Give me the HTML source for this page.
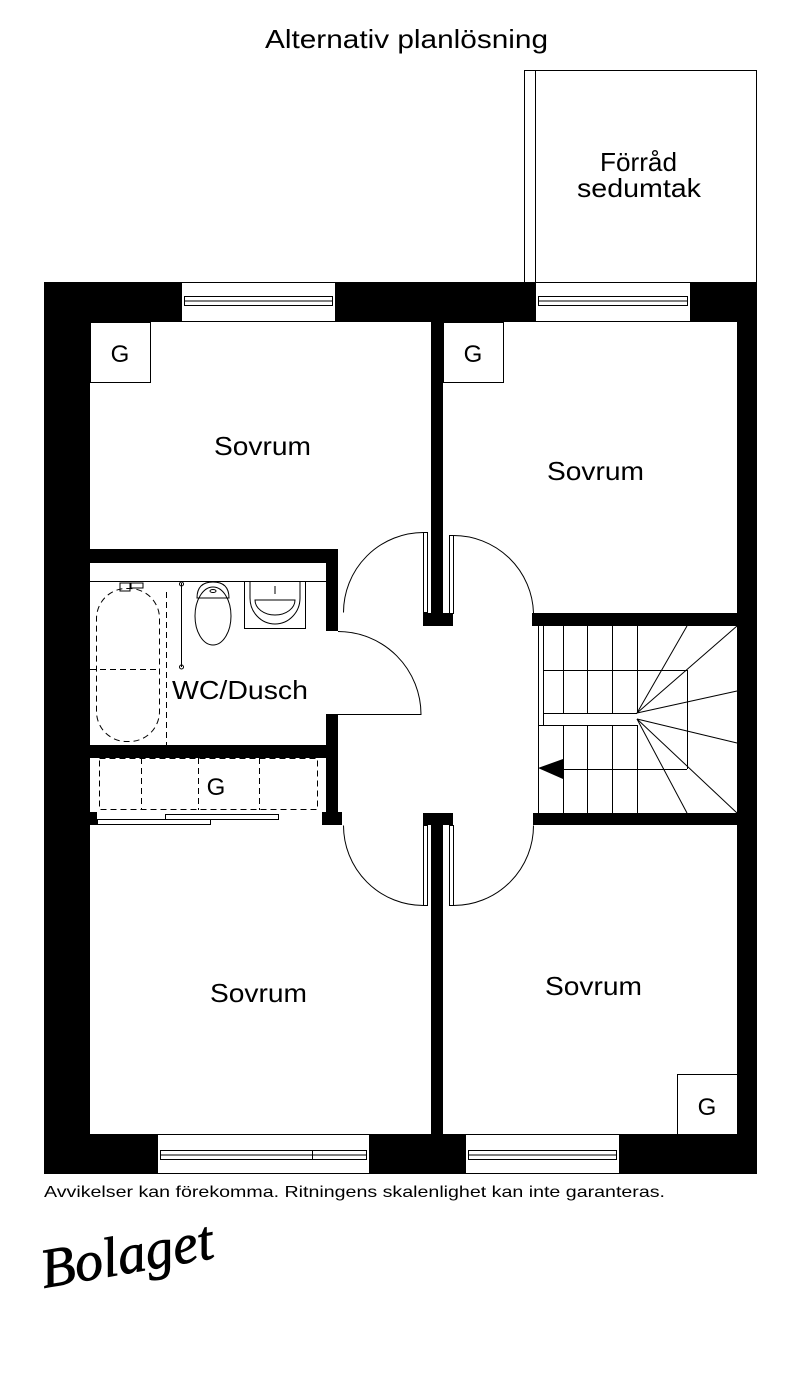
<!DOCTYPE html>
<html><head><meta charset="utf-8"><style>
html,body{margin:0;padding:0;background:#fff;}
svg{display:block;}
text{font-family:"Liberation Sans",sans-serif;fill:#000;}
</style></head><body>
<svg width="800" height="1389" viewBox="0 0 800 1389" xmlns="http://www.w3.org/2000/svg">
<rect width="800" height="1389" fill="#fff"/>
<text x="265" y="48" font-size="26" textLength="283" lengthAdjust="spacingAndGlyphs">Alternativ planlösning</text>

<!-- Förråd -->
<rect x="524.5" y="70.5" width="232" height="212" fill="none" stroke="#000" stroke-width="1"/>
<line x1="535.5" y1="70" x2="535.5" y2="282" stroke="#000" stroke-width="1"/>
<text x="600" y="171" font-size="26" textLength="77" lengthAdjust="spacingAndGlyphs">Förråd</text>
<text x="577" y="197" font-size="26" textLength="124" lengthAdjust="spacingAndGlyphs">sedumtak</text>

<!-- outer walls -->
<rect x="44" y="282" width="713" height="40" fill="#000"/>
<rect x="44" y="1134" width="713" height="40" fill="#000"/>
<rect x="44" y="282" width="46" height="892" fill="#000"/>
<rect x="737" y="282" width="20" height="892" fill="#000"/>

<!-- windows -->
<g stroke="#000" stroke-width="1" fill="#fff">
<rect x="181.5" y="282.5" width="154" height="39"/>
<rect x="184.5" y="296.5" width="148" height="9"/>
<line x1="184" y1="301" x2="333" y2="301"/>
<rect x="535.5" y="282.5" width="155" height="39"/>
<rect x="538.5" y="296.5" width="149" height="9"/>
<line x1="538" y1="301" x2="688" y2="301"/>
<rect x="157.5" y="1134.5" width="212" height="39"/>
<rect x="160.5" y="1150.5" width="206" height="9"/>
<line x1="160" y1="1155" x2="367" y2="1155"/>
<line x1="312.5" y1="1150" x2="312.5" y2="1160"/>
<rect x="465.5" y="1134.5" width="154" height="39"/>
<rect x="468.5" y="1150.5" width="148" height="9"/>
<line x1="468" y1="1155" x2="617" y2="1155"/>
</g>

<!-- interior walls -->
<rect x="431" y="322" width="12" height="291" fill="#000"/>
<rect x="423" y="613" width="30" height="13" fill="#000"/>
<rect x="423" y="813" width="30" height="12" fill="#000"/>
<rect x="431" y="825" width="12" height="309" fill="#000"/>
<rect x="532" y="613" width="205" height="13" fill="#000"/>
<rect x="533" y="813" width="204" height="12" fill="#000"/>
<rect x="90" y="549" width="248" height="14" fill="#000"/>
<rect x="326" y="549" width="12" height="82" fill="#000"/>
<rect x="90" y="745" width="248" height="13" fill="#000"/>
<rect x="326" y="714" width="12" height="100" fill="#000"/>
<rect x="322" y="812" width="20" height="13" fill="#000"/>
<rect x="90" y="812" width="7" height="13" fill="#000"/>

<g stroke="#000" stroke-width="1" fill="none">
<rect x="90.5" y="322.5" width="60" height="60"/>
<rect x="443.5" y="322.5" width="60" height="60"/>
<rect x="677.5" y="1074.5" width="60" height="60"/>
</g>
<g font-size="24" text-anchor="middle">
<text x="120" y="362">G</text>
<text x="473" y="362">G</text>
<text x="707" y="1115">G</text>
<text x="216" y="795">G</text>
</g>

<!-- doors -->
<g stroke="#000" stroke-width="1" fill="none">
<rect x="423.5" y="532.5" width="4" height="80"/>
<path d="M423.5,532.5 A80,80 0 0 0 343.5,612.5"/>
<rect x="449.5" y="535.5" width="4" height="78"/>
<path d="M453.5,535.5 A80,80 0 0 1 533.5,613"/>
<rect x="423.5" y="825.5" width="4" height="80"/>
<path d="M423.5,905.5 A80,80 0 0 1 343.5,825.5"/>
<rect x="449.5" y="825.5" width="4" height="80"/>
<path d="M453.5,905.5 A80,80 0 0 0 533.5,825.5"/>
<path d="M338,631.5 A83,83 0 0 1 421,714.5 L338,714.5"/>
</g>

<!-- bathroom fixtures -->
<g stroke="#000" stroke-width="1" fill="none">
<line x1="90" y1="581.5" x2="326" y2="581.5"/>
<rect x="96.5" y="588.5" width="63" height="153" rx="30" stroke-dasharray="6,4"/>
<line x1="90" y1="669.5" x2="160" y2="669.5" stroke-dasharray="6,4"/>
<line x1="166.5" y1="592" x2="166.5" y2="745" stroke-dasharray="6,4"/>
<line x1="181.5" y1="583" x2="181.5" y2="667"/>
<circle cx="181.5" cy="584" r="2"/><circle cx="181.5" cy="667" r="2"/>
<rect x="120" y="583" width="10" height="8"/><rect x="131" y="583" width="12" height="5"/>
<path d="M197,598 Q197,582 213,582 Q229,582 229,598 Z"/>
<ellipse cx="213" cy="616" rx="18" ry="29"/>
<ellipse cx="213" cy="591" rx="3" ry="1.5"/>
<rect x="244.5" y="581.5" width="61" height="47"/>
<path d="M250,582 L250,598 A25,26 0 0 0 300,598 L300,582"/>
<path d="M255,600 A20,15 0 0 0 295,600 Z"/>
<line x1="275" y1="586" x2="275" y2="594"/>
<rect x="99.5" y="758.5" width="218" height="51" stroke-dasharray="6,4"/>
<line x1="141.5" y1="758" x2="141.5" y2="810" stroke-dasharray="6,4"/>
<line x1="198.5" y1="758" x2="198.5" y2="810" stroke-dasharray="6,4"/>
<line x1="259.5" y1="758" x2="259.5" y2="810" stroke-dasharray="6,4"/>
<rect x="97.5" y="819.5" width="113" height="5"/>
<rect x="165.5" y="814.5" width="113" height="5"/>
</g>
<text x="172" y="699" font-size="26" textLength="136" lengthAdjust="spacingAndGlyphs">WC/Dusch</text>

<!-- stairs -->
<g stroke="#000" stroke-width="1" fill="none">
<line x1="538.5" y1="626" x2="538.5" y2="813"/>
<line x1="543.5" y1="626" x2="543.5" y2="725"/>
<line x1="563.5" y1="626" x2="563.5" y2="713"/>
<line x1="563.5" y1="725" x2="563.5" y2="813"/>
<line x1="587.5" y1="626" x2="587.5" y2="713"/>
<line x1="587.5" y1="725" x2="587.5" y2="813"/>
<line x1="612.5" y1="626" x2="612.5" y2="713"/>
<line x1="612.5" y1="725" x2="612.5" y2="813"/>
<line x1="637.5" y1="626" x2="637.5" y2="713"/>
<line x1="637.5" y1="725" x2="637.5" y2="813"/>
<line x1="543" y1="670.5" x2="687" y2="670.5"/>
<line x1="543" y1="713.5" x2="637" y2="713.5"/>
<line x1="538" y1="725.5" x2="637" y2="725.5"/>
<line x1="563" y1="769.5" x2="687" y2="769.5"/>
<line x1="687.5" y1="670" x2="687.5" y2="769"/>
<line x1="637" y1="713" x2="687" y2="626"/>
<line x1="637" y1="713" x2="737" y2="626"/>
<line x1="637" y1="713" x2="737" y2="691"/>
<line x1="637" y1="719" x2="737" y2="743"/>
<line x1="637" y1="719" x2="737" y2="813"/>
<line x1="637" y1="719" x2="687" y2="813"/>
</g>
<polygon points="538,768 563,759 563,779" fill="#000"/>

<g font-size="26">
<text x="214" y="455" textLength="97" lengthAdjust="spacingAndGlyphs">Sovrum</text>
<text x="547" y="480" textLength="97" lengthAdjust="spacingAndGlyphs">Sovrum</text>
<text x="210" y="1002" textLength="97" lengthAdjust="spacingAndGlyphs">Sovrum</text>
<text x="545" y="995" textLength="97" lengthAdjust="spacingAndGlyphs">Sovrum</text>
</g>

<text x="44" y="1197" font-size="16" textLength="621" lengthAdjust="spacingAndGlyphs">Avvikelser kan förekomma. Ritningens skalenlighet kan inte garanteras.</text>
<text x="44" y="1288" font-size="56" font-style="italic" style="font-family:'Liberation Serif',serif" transform="rotate(-10 44 1288)" fill="none" stroke="#000" stroke-width="0.8">Bolaget</text>
</svg>
</body></html>
